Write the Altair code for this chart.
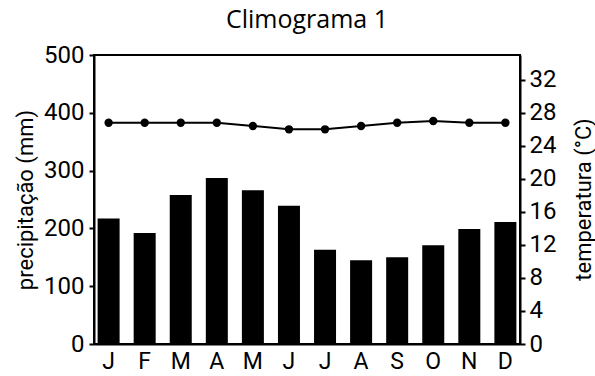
import altair as alt
import pandas as pd

meses = ["Jan", "Fev", "Mar", "Abr", "Mai", "Jun", "Jul", "Ago", "Set", "Out", "Nov", "Dez"]
precipitacao = [217, 192, 258, 287, 266, 239, 163, 145, 150, 171, 199, 211]
temperatura = [26.8, 26.8, 26.8, 26.8, 26.4, 26.0, 26.0, 26.4, 26.8, 27.0, 26.8, 26.8]

df = pd.DataFrame({"mes": meses, "precip": precipitacao, "temp": temperatura})

FONT = "Roboto"

x = alt.X(
    "mes:N",
    sort=meses,
    scale=alt.Scale(paddingInner=0.39, paddingOuter=0.1),
    axis=alt.Axis(
        title=None, labelAngle=0, ticks=False, labelExpr="substring(datum.label, 0, 1)",
        labelFontSize=23, labelFont=FONT, labelColor="black", labelPadding=6,
        domainColor="black", domainWidth=2,
    ),
)

bars = alt.Chart(df).mark_bar(color="black").encode(
    x=x,
    y=alt.Y(
        "precip:Q",
        scale=alt.Scale(domain=[0, 500], nice=False),
        axis=alt.Axis(
            title="precipitação (mm)", values=[0, 100, 200, 300, 400, 500],
            grid=False, labelFontSize=24, labelFont=FONT, labelColor="black",
            titleFontSize=22, titleFont=FONT, titleFontWeight="normal", titleColor="black",
            titlePadding=6, tickSize=5, tickWidth=2, tickColor="black",
            domainColor="black", domainWidth=2, labelPadding=5,
        ),
    ),
)

temp_y = alt.Y(
    "temp:Q",
    scale=alt.Scale(domain=[0, 35], nice=False),
    axis=alt.Axis(
        title="temperatura (°C)", orient="right", values=[0, 4, 8, 12, 16, 20, 24, 28, 32],
        grid=False, labelFontSize=24, labelFont=FONT, labelColor="black",
        titleFontSize=22, titleFont=FONT, titleFontWeight="normal", titleColor="black",
        titleAngle=270, titleBaseline="middle", titleAlign="center", titleX=63, titleY=144,
        tickSize=5, tickWidth=2, tickColor="black",
        domainColor="black", domainWidth=2, labelPadding=4,
    ),
)

line = alt.Chart(df).mark_line(color="black", strokeWidth=2).encode(x=x, y=temp_y)
pts = alt.Chart(df).mark_point(filled=True, color="black", size=70, opacity=1).encode(x=x, y=temp_y)

temp_layer = alt.layer(line, pts)

chart = alt.layer(bars, temp_layer).resolve_scale(y="independent").properties(
    width=426,
    height=289,
    title=alt.TitleParams("Climograma 1", fontSize=25, font="Open Sans", fontWeight="normal",
                          color="black", anchor="middle", offset=10),
    autosize=alt.AutoSizeParams(type="none"),
    padding={"left": 94, "top": 55, "right": 75, "bottom": 32},
).configure_view(stroke="black", strokeWidth=2)

chart.save("out.html", embed_options={"renderer": "svg", "actions": False})
